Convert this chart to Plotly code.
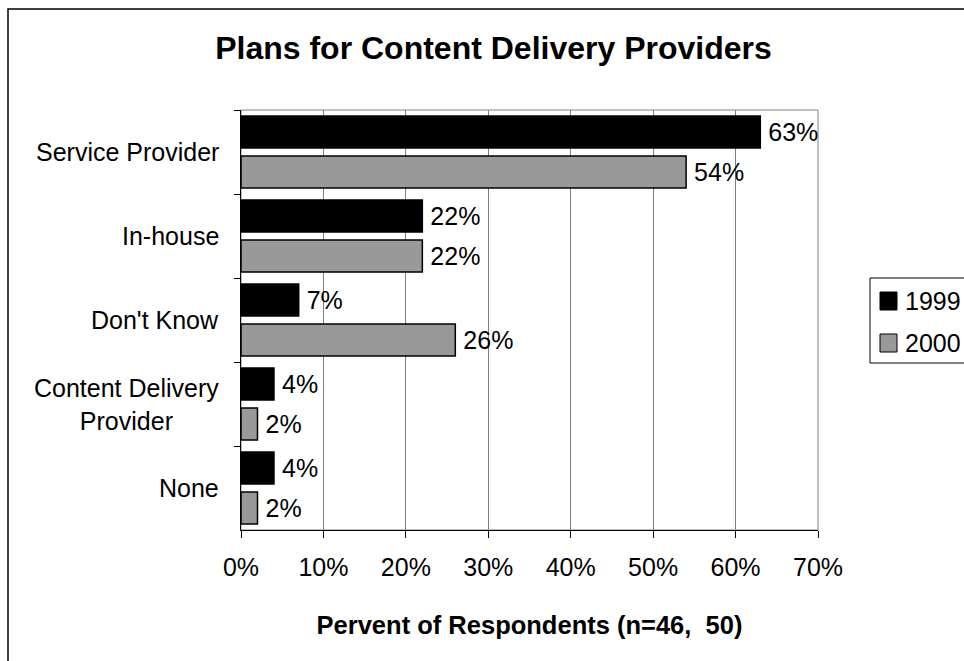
import plotly.graph_objects as go

# Survey answers, listed top to bottom
categories = ["Service Provider", "In-house", "Don't Know",
              "Content Delivery<br>Provider", "None"]
pct_1999 = [63, 22, 7, 4, 4]
pct_2000 = [54, 22, 26, 2, 2]
years = ["1999", "2000"]
year_colors = ["#000000", "#999999"]
x_ticks = [0, 10, 20, 30, 40, 50, 60, 70]

FONT = "Arial, Liberation Sans, sans-serif"
W, H = 964, 661
L, R, T, B = 241, 146, 110, 131
plot_w = W - L - R
plot_h = H - T - B


def px(x):
    """page x pixel -> paper coordinate"""
    return (x - L) / plot_w


def py(y):
    """page y pixel -> paper coordinate"""
    return (H - B - y) / plot_h


fig = go.Figure()
for name, vals, fill in zip(years, [pct_1999, pct_2000], year_colors):
    fig.add_trace(go.Bar(
        y=categories, x=vals, name=name, orientation="h",
        marker=dict(color=fill, line=dict(color="#000000", width=1.5)),
        text=[f"\u2009{v}%" for v in vals], textposition="outside",
        textfont=dict(family=FONT, size=25, color="#000000"),
        constraintext="none", cliponaxis=False, showlegend=False,
    ))

# category labels, each block right-aligned with its lines centred
for c in categories:
    fig.add_annotation(
        x=0, xref="paper", y=c, yref="y", xanchor="right", yanchor="middle",
        xshift=-20, text=c, showarrow=False, align="center",
        font=dict(family=FONT, size=25, color="#000000"),
    )

shapes = [
    # outer chart frame (only left and top edges fall inside the page)
    dict(type="rect", xref="paper", yref="paper",
         x0=px(8), x1=px(W + 60), y0=py(H + 60), y1=py(9),
         line=dict(color="#000000", width=1.5), layer="below"),
    # plot area frame
    dict(type="rect", xref="paper", yref="paper", x0=0, x1=1, y0=0, y1=1,
         line=dict(color="#808080", width=1), layer="below"),
    # legend box (runs off the right edge of the page)
    dict(type="rect", xref="paper", yref="paper",
         x0=px(870), x1=px(W + 60), y0=py(363), y1=py(278),
         line=dict(color="#000000", width=1), fillcolor="#ffffff"),
]
# legend entries
for i, (name, fill) in enumerate(zip(years, year_colors)):
    cy = 301 + 42 * i
    shapes.append(dict(type="rect", xref="paper", yref="paper",
                       x0=px(880), x1=px(897), y0=py(cy + 9), y1=py(cy - 9),
                       fillcolor=fill, line=dict(color="#000000", width=1)))
    fig.add_annotation(x=px(903), xref="paper", y=py(cy), yref="paper",
                       xanchor="left", yanchor="middle", text=name,
                       showarrow=False,
                       font=dict(family=FONT, size=25, color="#000000"))

fig.update_layout(
    width=W, height=H,
    margin=dict(l=L, r=R, t=T, b=B, autoexpand=False),
    paper_bgcolor="#ffffff", plot_bgcolor="#ffffff",
    barmode="group", bargap=0.05, bargroupgap=0.2,
    showlegend=False,
    shapes=shapes,
    title=dict(text="<b>Plans for Content Delivery Providers</b>",
               x=493.5 / W, xref="container", xanchor="center",
               y=1 - 48 / H, yref="container", yanchor="middle",
               font=dict(family=FONT, size=32, color="#000000")),
    xaxis=dict(range=[0, 70], tickvals=x_ticks,
               ticktext=[f"{t}%" for t in x_ticks],
               showgrid=True, gridcolor="#808080", gridwidth=1,
               showline=True, linecolor="#000000", linewidth=1,
               ticks="outside", ticklen=7, tickcolor="#000000",
               ticklabelstandoff=8,
               tickfont=dict(family=FONT, size=25, color="#000000"),
               zeroline=False,
               title=dict(text="<b>Pervent of Respondents (n=46,  50)</b>",
                          font=dict(family=FONT, size=25.5, color="#000000"),
                          standoff=36)),
    yaxis=dict(autorange="reversed", showgrid=False, showticklabels=False,
               showline=True, linecolor="#000000", linewidth=1,
               ticks="outside", ticklen=6, tickcolor="#000000",
               tickson="boundaries"),
)

fig.write_html("out.html")
